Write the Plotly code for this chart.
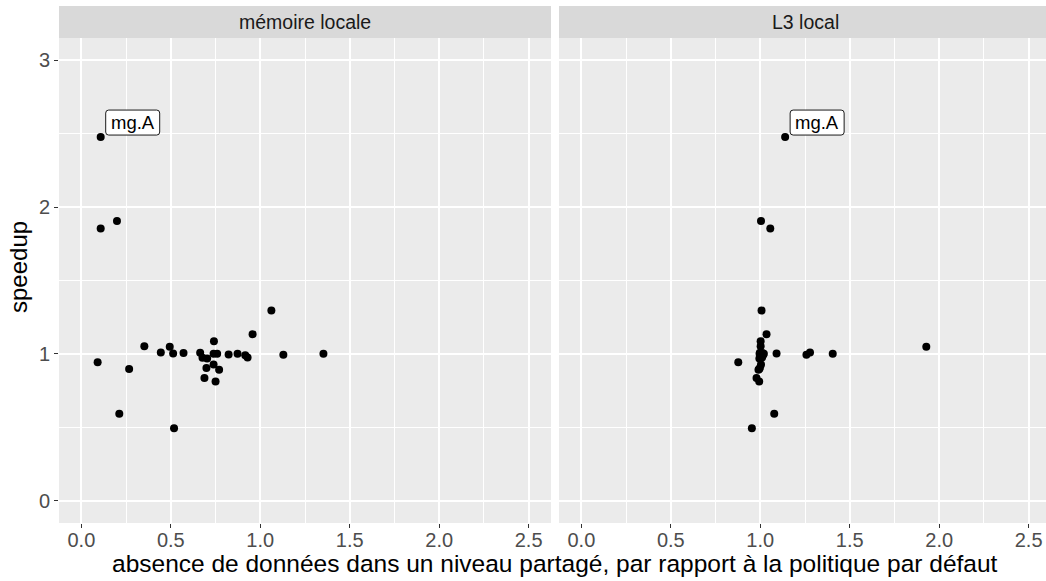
import plotly.graph_objects as go

W, H = 1046, 581

# Speedup per benchmark (same benchmarks in both facets)
speedup = [2.476, 1.905, 1.853, 1.296, 1.135, 1.087, 1.053, 1.049, 1.010, 1.008,
           1.006, 1.003, 1.001, 1.001, 1.001, 1.001, 0.997, 0.994, 0.992, 0.976,
           0.974, 0.969, 0.944, 0.929, 0.904, 0.897, 0.893, 0.836, 0.813, 0.594,
           0.494]

# Shared-level miss ratio relative to the default policy
miss_local_mem = [0.108, 0.199, 0.108, 1.062, 0.957, 0.741, 0.352, 0.494, 0.444, 0.664,
                  0.571, 0.513, 0.739, 0.759, 0.873, 1.353, 0.823, 1.129, 0.916, 0.929,
                  0.677, 0.703, 0.091, 0.739, 0.699, 0.267, 0.770, 0.688, 0.750, 0.212,
                  0.518]
miss_l3_local = [1.139, 1.004, 1.056, 1.007, 1.035, 1.002, 1.002, 1.928, 1.278, 0.998,
                 1.012, 1.091, 0.996, 1.000, 1.020, 1.405, 1.008, 1.258, 1.015, 1.010,
                 1.000, 0.995, 0.877, 1.004, 0.998, 0.994, 0.990, 0.979, 0.994, 1.078,
                 0.953]

labels = ["mg.A"] + [""] * 30
facets = ["mémoire locale", "L3 local"]
x_ticks = [0.0, 0.5, 1.0, 1.5, 2.0, 2.5]
x_ticktext = ["0.0", "0.5", "1.0", "1.5", "2.0", "2.5"]
y_ticks = [0, 1, 2, 3]

FONT = "Liberation Sans, Arial, Helvetica, sans-serif"
PANEL_BG = "#EBEBEB"
STRIP_BG = "#D9D9D9"

# panel geometry (pixels)
left_px = (59, 551)
right_px = (559, 1046)
top_px, bottom_px = 38, 523
strip_top_px = 6
panel_w = left_px[1] - left_px[0]
px_per_unit = panel_w / 2.75
x_range_left = [-0.125, 2.625]
x_range_right = [-0.125, -0.125 + (right_px[1] - right_px[0]) / px_per_unit]

def px_x(p):
    return p / W

def px_y(p):
    return 1 - p / H

fig = go.Figure()

for i, xs in enumerate([miss_local_mem, miss_l3_local]):
    ax = "" if i == 0 else "2"
    fig.add_trace(go.Scatter(
        x=xs, y=speedup, mode="markers",
        marker=dict(color="black", size=8, line=dict(width=0)),
        xaxis="x" + ax, yaxis="y" + ax, showlegend=False,
        hoverinfo="skip",
    ))
    for xv, yv, lab in zip(xs, speedup, labels):
        if not lab:
            continue
        # rounded label box anchored to the point
        fig.add_shape(
            type="path", xref="x" + ax, yref="y" + ax,
            xsizemode="pixel", ysizemode="pixel",
            xanchor=xv, yanchor=yv,
            path="M 8,2 L 56,2 Q 59,2 59,5 L 59,24 Q 59,27 56,27 L 8,27 "
                 "Q 5,27 5,24 L 5,5 Q 5,2 8,2 Z",
            fillcolor="white", line=dict(color="#1A1A1A", width=1),
            layer="above",
        )
        fig.add_annotation(
            x=xv, y=yv, xref="x" + ax, yref="y" + ax,
            text=lab, showarrow=False, xanchor="center", yanchor="middle",
            xshift=32, yshift=14.5,
            font=dict(family=FONT, size=18.5, color="black"),
        )

axis_common = dict(
    showgrid=True, gridcolor="white", gridwidth=2.2,
    zeroline=False, showline=False,
    ticks="outside", ticklen=4, tickwidth=1.1, tickcolor="#333333",
    tickfont=dict(family=FONT, size=20, color="#4D4D4D"),
)

xaxis_common = dict(
    axis_common, tickmode="array", tickvals=x_ticks, ticktext=x_ticktext,
    ticklabelstandoff=-5,
    minor=dict(tickmode="array", tickvals=[0.25, 0.75, 1.25, 1.75, 2.25],
               showgrid=True, gridcolor="white", gridwidth=1.1, ticklen=0),
)
yaxis_common = dict(
    axis_common, tickmode="array", tickvals=y_ticks, range=[-0.15, 3.15],
    minor=dict(tickmode="array", tickvals=[0.5, 1.5, 2.5],
               showgrid=True, gridcolor="white", gridwidth=1.1, ticklen=0),
)

fig.update_layout(
    width=W, height=H,
    margin=dict(l=0, r=0, t=0, b=0),
    paper_bgcolor="white", plot_bgcolor=PANEL_BG,
    font=dict(family=FONT),
    xaxis=dict(xaxis_common, domain=[px_x(left_px[0]), px_x(left_px[1])],
               range=x_range_left, anchor="y"),
    xaxis2=dict(xaxis_common, domain=[px_x(right_px[0]), px_x(right_px[1])],
                range=x_range_right, anchor="y2"),
    yaxis=dict(yaxis_common, domain=[px_y(bottom_px), px_y(top_px)], anchor="x"),
    yaxis2=dict(yaxis_common, domain=[px_y(bottom_px), px_y(top_px)], anchor="x2",
                matches="y", showticklabels=False, ticks=""),
)

# facet strips
for (x0, x1), name in zip([left_px, right_px], facets):
    fig.add_shape(type="rect", xref="paper", yref="paper",
                  x0=px_x(x0), x1=px_x(x1), y0=px_y(top_px), y1=px_y(strip_top_px),
                  fillcolor=STRIP_BG, line=dict(width=0), layer="below")
    fig.add_annotation(xref="paper", yref="paper",
                       x=px_x(x0 + panel_w / 2), y=px_y((top_px + strip_top_px) / 2),
                       text=name, showarrow=False, xanchor="center", yanchor="middle",
                       font=dict(family=FONT, size=19.5, color="#1A1A1A"))

# axis titles
fig.add_annotation(xref="paper", yref="paper", x=px_x(555), y=px_y(563),
                   text="absence de données dans un niveau partagé, par rapport à la politique par défaut",
                   showarrow=False, xanchor="center", yanchor="middle",
                   font=dict(family=FONT, size=24.5, color="black"))
fig.add_annotation(xref="paper", yref="paper", x=px_x(18), y=px_y(267),
                   text="speedup", textangle=-90,
                   showarrow=False, xanchor="center", yanchor="middle",
                   font=dict(family=FONT, size=24, color="black"))

fig.write_html("out.html")
